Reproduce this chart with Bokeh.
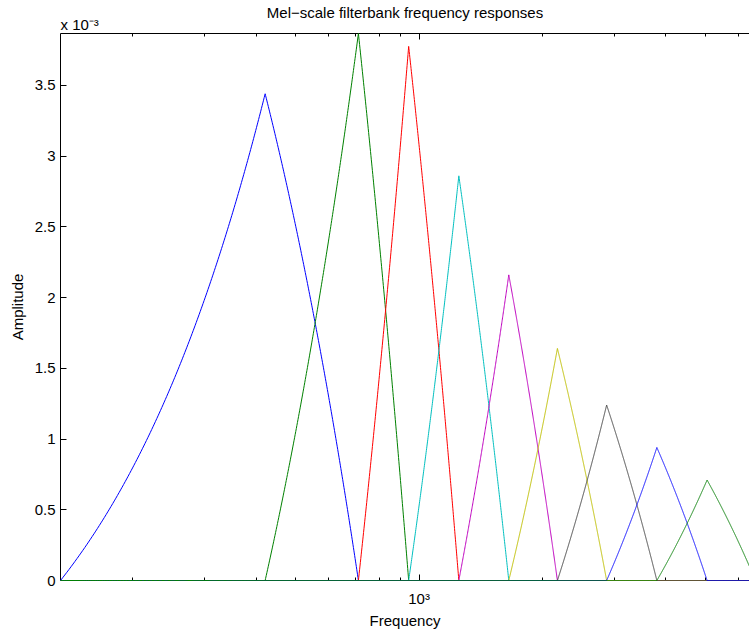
import numpy as np
from bokeh.plotting import figure
from bokeh.models import Range1d, FixedTicker, LogAxis, Title
from bokeh.embed import file_html
from bokeh.resources import INLINE

# Band edges (Hz) of the triangular filters: filter k rises from edge k,
# peaks at edge k+1 and falls back to zero at edge k+2.
band_edges = [133.33, 421, 711, 943, 1250, 1655, 2175, 2868, 3803, 5043, 6620]
# Peak amplitude of each filter
peak_amplitudes = [3.44e-3, 3.866e-3, 3.775e-3, 2.86e-3, 2.16e-3,
                   1.64e-3, 1.24e-3, 0.94e-3, 0.71e-3]
# MATLAB-style colour order (b, g, r, c, m, y, k, then repeat)
line_colors = ["#0000ff", "#008000", "#ff0000", "#00bfbf", "#bf00bf",
               "#bfbf00", "#404040", "#0000ff", "#008000"]

freq_min, freq_max = 133.33, 6400
amp_max = 3.866e-3

y_ticks = [0, 0.5e-3, 1.0e-3, 1.5e-3, 2.0e-3, 2.5e-3, 3.0e-3, 3.5e-3]
y_tick_labels = ["0", "0.5", "1", "1.5", "2", "2.5", "3", "3.5"]
x_major_ticks = [1000]
x_minor_ticks = [200, 300, 400, 500, 600, 700, 800, 900,
                 2000, 3000, 4000, 5000, 6000]

FONT = "Liberation Sans"

p = figure(width=749, height=631, x_axis_type="log",
           x_range=Range1d(freq_min, freq_max), y_range=Range1d(0, amp_max),
           output_backend="svg", toolbar_location=None,
           min_border_left=60, min_border_right=0,
           min_border_top=33, min_border_bottom=49)
p.background_fill_color = "white"
p.border_fill_color = "white"
p.outline_line_color = None
p.xgrid.visible = False
p.ygrid.visible = False

# Each filter is linear in frequency; evaluate it on a fine frequency grid
# so the curvature on the logarithmic axis is reproduced.
freq_grid = np.union1d(np.linspace(freq_min, band_edges[-1], 4000), band_edges)
for k, (amp, color) in enumerate(zip(peak_amplitudes, line_colors)):
    lo, mid, hi = band_edges[k], band_edges[k + 1], band_edges[k + 2]
    response = np.interp(freq_grid, [lo, mid, hi], [0.0, amp, 0.0])
    r = p.line(freq_grid, response, line_color=color, line_width=1)
    r.level = "overlay"

# Bottom axis
xax = p.xaxis[0]
xax.ticker = FixedTicker(ticks=x_major_ticks, minor_ticks=x_minor_ticks)
xax.major_label_overrides = {1000: "10³"}
xax.axis_label = "Frequency"

# Left axis
yax = p.yaxis[0]
yax.ticker = FixedTicker(ticks=y_ticks)
yax.major_label_overrides = {t: s for t, s in zip(y_ticks, y_tick_labels)}
yax.axis_label = "Amplitude"

# Top axis (ticks only)
top = LogAxis(ticker=FixedTicker(ticks=x_major_ticks, minor_ticks=x_minor_ticks),
              major_label_overrides={1000: ""})
p.add_layout(top, "above")

for ax in (xax, yax, top):
    ax.axis_line_color = "black"
    ax.axis_line_width = 1
    ax.major_tick_line_color = "black"
    ax.minor_tick_line_color = "black"
    ax.major_tick_in = 6
    ax.major_tick_out = 0
    ax.minor_tick_in = 3
    ax.minor_tick_out = 0
    ax.major_label_text_font = FONT
    ax.major_label_text_font_size = "15px"
    ax.major_label_text_color = "black"
    ax.axis_label_text_font = FONT
    ax.axis_label_text_font_size = "15px"
    ax.axis_label_text_font_style = "normal"
    ax.axis_label_text_color = "black"

yax.minor_tick_in = 0
yax.major_label_standoff = 5
yax.axis_label_standoff = 6
xax.major_label_standoff = 9
xax.axis_label_standoff = 2
top.major_label_standoff = 0
top.major_label_text_font_size = "0px"

# Exponent multiplier of the y axis, left-aligned over the plot box
scale_note = Title(text="x 10⁻³", align="left", offset=0, standoff=1,
                   text_font=FONT, text_font_size="15px",
                   text_font_style="normal", text_color="black")
p.add_layout(scale_note, "above")

# Main title, centred over the plot box
p.title = Title(text="Mel−scale filterbank frequency responses", align="center",
                standoff=-15, text_font=FONT, text_font_size="15px",
                text_font_style="normal", text_color="black")

open("out.html", "w").write(file_html(p, INLINE))
